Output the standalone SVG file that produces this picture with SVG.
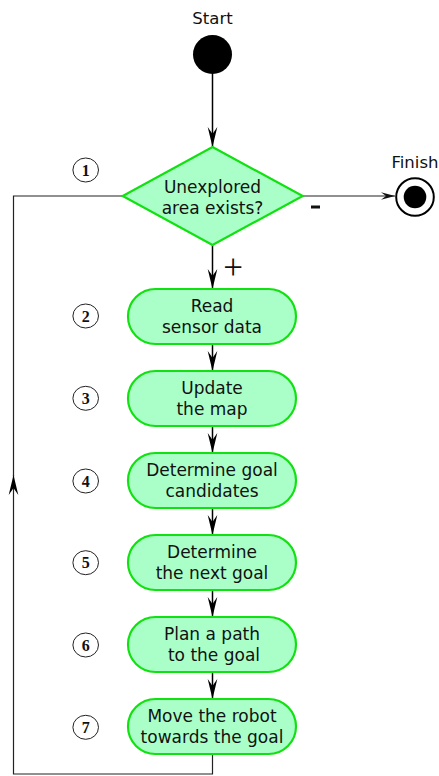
<svg xmlns="http://www.w3.org/2000/svg" width="439" height="776" viewBox="0 0 439 776">
<style>
.t{font-family:"DejaVu Sans",sans-serif;font-size:17px;fill:#111;text-anchor:middle}
.lbl{font-family:"DejaVu Sans",sans-serif;font-size:16.5px;fill:#111;text-anchor:middle}
.box{fill:#aaffc8;stroke:#11e011;stroke-width:2.2}
.num ellipse{fill:#fff;stroke:#222;stroke-width:1}
.num text{font-family:"Liberation Serif",serif;font-weight:bold;font-size:16px;fill:#111;text-anchor:middle}
.c{fill:none;stroke:#000;stroke-width:1.5}
.c2{fill:none;stroke:#222;stroke-width:1.2}
</style>
<defs>
<marker id="ah" markerUnits="userSpaceOnUse" orient="auto" refX="0" refY="0" overflow="visible" markerWidth="20" markerHeight="10">
<path d="M0,0 L-20,-4.8 L-13,0 L-20,4.8 Z" fill="#000"/>
</marker>
<marker id="as" markerUnits="userSpaceOnUse" orient="auto" refX="0" refY="0" overflow="visible" markerWidth="14" markerHeight="8">
<path d="M0,0 L-14,-3.8 L-9,0 L-14,3.8 Z" fill="#111"/>
</marker>
</defs>

<g id="connectors">
<path class="c" d="M212.5,74 V147" marker-end="url(#ah)"/>
<path class="c" d="M212.5,245 V289" marker-end="url(#ah)"/>
<path class="c" d="M212.5,344 V371" marker-end="url(#ah)"/>
<path class="c" d="M212.5,426 V453" marker-end="url(#ah)"/>
<path class="c" d="M212.5,508 V535" marker-end="url(#ah)"/>
<path class="c" d="M212.5,590 V617" marker-end="url(#ah)"/>
<path class="c" d="M212.5,672 V699" marker-end="url(#ah)"/>
<path class="c2" d="M302.7,196 H395" marker-end="url(#as)"/>
<path class="c2" d="M212.5,754 V774 H13.5 V475" marker-end="url(#ah)"/>
<path class="c2" d="M13.5,476 V196 H122.7"/>
<text x="233" y="279" font-family="Liberation Serif,serif" font-size="35" text-anchor="middle" fill="#111">+</text>
<rect x="311" y="205.5" width="9" height="3" fill="#111"/>
</g>

<g id="start">
<text class="lbl" x="212.5" y="24">Start</text>
<circle cx="212.5" cy="54.5" r="19.5" fill="#000"/>
</g>

<g id="finish">
<text class="lbl" x="415" y="168">Finish</text>
<circle cx="415" cy="197" r="18.8" fill="#fff" stroke="#000" stroke-width="2"/>
<circle cx="415" cy="197" r="11.3" fill="#000"/>
</g>

<g id="decision">
<polygon class="box" points="212.5,147 302.7,196 212.5,245 122.7,196"/>
<text class="t" x="212.5" y="192.5">Unexplored</text>
<text class="t" x="212.5" y="213.5">area exists?</text>
</g>

<g id="step1">
<rect class="box" x="128" y="289" width="168" height="55" rx="27.5"/>
<text class="t" x="212" y="311.7">Read</text>
<text class="t" x="212" y="332.7">sensor data</text>
</g>
<g id="step2">
<rect class="box" x="128" y="371" width="168" height="55" rx="27.5"/>
<text class="t" x="212" y="393.7">Update</text>
<text class="t" x="212" y="414.7">the map</text>
</g>
<g id="step3">
<rect class="box" x="128" y="453" width="168" height="55" rx="27.5"/>
<text class="t" x="212" y="475.7">Determine goal</text>
<text class="t" x="212" y="496.7">candidates</text>
</g>
<g id="step4">
<rect class="box" x="128" y="535" width="168" height="55" rx="27.5"/>
<text class="t" x="212" y="557.7">Determine</text>
<text class="t" x="212" y="578.7">the next goal</text>
</g>
<g id="step5">
<rect class="box" x="128" y="617" width="168" height="55" rx="27.5"/>
<text class="t" x="212" y="639.7">Plan a path</text>
<text class="t" x="214" y="660.7">to the goal</text>
</g>
<g id="step6">
<rect class="box" x="128" y="699" width="168" height="55" rx="27.5"/>
<text class="t" x="212" y="721.7">Move the robot</text>
<text class="t" x="212" y="742.7">towards the goal</text>
</g>

<g id="n1" class="num"><ellipse cx="85.7" cy="170" rx="12.8" ry="12"/><text x="85.7" y="175.5">1</text></g>
<g id="n2" class="num"><ellipse cx="85.7" cy="316" rx="12.8" ry="12"/><text x="85.7" y="321.5">2</text></g>
<g id="n3" class="num"><ellipse cx="85.7" cy="398.3" rx="12.8" ry="12"/><text x="85.7" y="403.8">3</text></g>
<g id="n4" class="num"><ellipse cx="85.7" cy="481" rx="12.8" ry="12"/><text x="85.7" y="486.5">4</text></g>
<g id="n5" class="num"><ellipse cx="85.7" cy="562.7" rx="12.8" ry="12"/><text x="85.7" y="568.2">5</text></g>
<g id="n6" class="num"><ellipse cx="85.7" cy="645" rx="12.8" ry="12"/><text x="85.7" y="650.5">6</text></g>
<g id="n7" class="num"><ellipse cx="85.7" cy="727.3" rx="12.8" ry="12"/><text x="85.7" y="732.8">7</text></g>
</svg>
